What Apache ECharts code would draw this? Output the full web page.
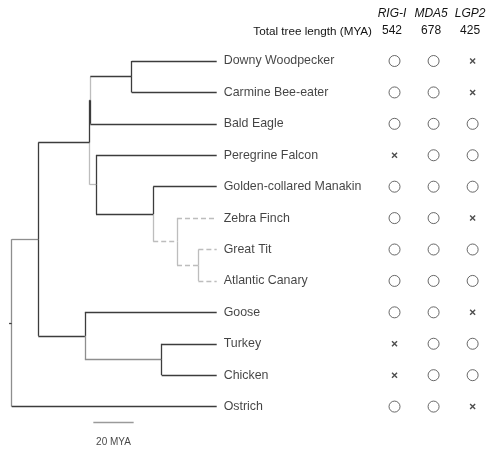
<!DOCTYPE html>
<html>
<head>
<meta charset="utf-8">
<script src="https://cdn.jsdelivr.net/npm/echarts@6/dist/echarts.min.js"></script>
<style>
  html, body { margin: 0; padding: 0; background: #fff; }
  #chart { width: 493px; height: 453px; }
</style>
</head>
<body>
<div id="chart"></div>
<script>
// ---- Data -------------------------------------------------------------
// Tip taxa, top to bottom
const tips = ['Downy Woodpecker', 'Carmine Bee-eater', 'Bald Eagle', 'Peregrine Falcon',
  'Golden-collared Manakin', 'Zebra Finch', 'Great Tit', 'Atlantic Canary',
  'Goose', 'Turkey', 'Chicken', 'Ostrich'];

// Internal clades: name, age (million years ago), children (top to bottom)
const cladeNames = ['Aves', 'Neognathae', 'Telluraves', 'Afroaves', 'Coraciimorphae',
  'Australaves', 'Passeriformes', 'Passerida', 'Paridae+Fringillidae', 'Galloanserae', 'Phasianidae'];
const cladeAges = [101.7, 88.5, 63.1, 62.7, 42.2, 59.9, 31.5, 19.7, 9.1, 65.4, 27.3];
const cladeChildren = [
  ['Neognathae', 'Ostrich'],
  ['Telluraves', 'Galloanserae'],
  ['Afroaves', 'Australaves'],
  ['Coraciimorphae', 'Bald Eagle'],
  ['Downy Woodpecker', 'Carmine Bee-eater'],
  ['Peregrine Falcon', 'Passeriformes'],
  ['Golden-collared Manakin', 'Passerida'],
  ['Zebra Finch', 'Paridae+Fringillidae'],
  ['Great Tit', 'Atlantic Canary'],
  ['Goose', 'Phasianidae'],
  ['Turkey', 'Chicken']
];
const rootStem = 1.3;          // MYA
const scaleBarLength = 20;     // MYA
const scaleBarLabel = '20 MYA';

// Genes and their presence (1) / absence (0) per taxon, same order as tips
const genes = ['RIG-I', 'MDA5', 'LGP2'];
const totalTreeLength = [542, 678, 425];
const rigI = [1, 1, 1, 0, 1, 1, 1, 1, 1, 0, 0, 1];
const mda5 = [1, 1, 1, 1, 1, 1, 1, 1, 1, 1, 1, 1];
const lgp2 = [0, 0, 1, 1, 1, 0, 1, 1, 0, 1, 1, 0];
const presence = [rigI, mda5, lgp2];

// ---- Tree layout in data units (x: MYA since root, y: row index) -------
const rootAge = cladeAges[0];
const ageOf = {}, kids = {};
tips.forEach(t => { ageOf[t] = 0; });
cladeNames.forEach((c, i) => { ageOf[c] = cladeAges[i]; kids[c] = cladeChildren[i]; });

const yOf = {};
function placeY(name) {
  if (!kids[name]) { yOf[name] = tips.indexOf(name); return yOf[name]; }
  const ys = kids[name].map(placeY);
  yOf[name] = (ys[0] + ys[ys.length - 1]) / 2;
  return yOf[name];
}
placeY(cladeNames[0]);
const xOf = name => rootAge - ageOf[name];

// Collect the members of the songbird clade (drawn dashed)
const dashedSet = new Set();
(function mark(n) { dashedSet.add(n); (kids[n] || []).forEach(mark); })('Passerida');

const COLORS = { dark: '#3c3c3c', mid: '#8e8e8e', light: '#bdbdbd' };
// [vertical tone, horizontal tone] of the elbow leading to a node
const edgeTone = {
  'Ostrich': ['mid', 'dark'],
  'Neognathae': ['mid', 'mid'],
  'Australaves': ['light', 'light'],
  'Coraciimorphae': ['light', 'dark'],
  'Phasianidae': ['mid', 'mid']
};
const toneRank = { light: 0, dashed: 0, mid: 1, dark: 2 };

const segments = [];
function seg(a, b, tone) {
  const dashed = tone === 'dashed';
  segments.push({
    rank: toneRank[tone],
    coords: [a, b],
    lineStyle: {
      color: dashed ? COLORS.light : COLORS[tone],
      width: 1.3,
      opacity: 1,
      type: dashed ? [5, 3] : 'solid'
    }
  });
}
cladeNames.forEach(p => {
  kids[p].forEach(c => {
    let tones = edgeTone[c] || ['dark', 'dark'];
    if (dashedSet.has(c)) tones = ['light', 'dashed'];
    seg([xOf(p), yOf[p]], [xOf(p), yOf[c]], tones[0]);
    seg([xOf(p), yOf[c]], [xOf(c), yOf[c]], tones[1]);
  });
});
seg([-rootStem, yOf[cladeNames[0]]], [0, yOf[cladeNames[0]]], 'dark');
segments.sort((a, b) => a.rank - b.rank);

// Scale bar placed under the tree
const scaleX0 = 40.5, scaleY = tips.length - 0.5;

// ---- Table of gene presence -------------------------------------------
const tableData = [];
presence.forEach((arr, g) => {
  arr.forEach((v, t) => {
    tableData.push({
      value: [g, t],
      symbol: v ? 'circle' : 'path://M0,0L10,10M10,0L0,10',
      symbolSize: v ? 11 : 5,
      itemStyle: v
        ? { color: '#fff', borderColor: '#444', borderWidth: 1 }
        : { color: 'none', borderColor: '#222', borderWidth: 1.4 }
    });
  });
});

const FONT = '"Liberation Sans", Arial, sans-serif';
const TEXT = '#141414';
const chart = echarts.init(document.getElementById('chart'), null, { renderer: 'canvas' });
chart.setOption({
  animation: false,
  backgroundColor: '#fff',
  textStyle: { fontFamily: FONT },
  grid: [
    { left: 11.7, width: 205, top: 61, height: 345.6 },
    { left: 375, width: 120, top: 45.3, height: 377 }
  ],
  xAxis: [
    { type: 'value', gridIndex: 0, min: 0, max: rootAge, show: false },
    {
      type: 'category', gridIndex: 1, data: genes, position: 'top',
      axisLine: { show: false }, axisTick: { show: false }, splitLine: { show: false },
      axisLabel: {
        margin: 6,
        interval: 0,
        formatter: (v, i) => '{g|' + v + '}\n{n|' + totalTreeLength[i] + '}',
        rich: {
          g: { fontFamily: FONT, fontSize: 12, fontStyle: 'italic', color: TEXT, lineHeight: 17, padding: [0, 5, 0, 0] },
          n: { fontFamily: FONT, fontSize: 12, color: TEXT, lineHeight: 17, padding: [0, 5, 0, 0] }
        }
      }
    }
  ],
  yAxis: [
    { type: 'value', gridIndex: 0, min: 0, max: tips.length - 1, inverse: true, show: false },
    { type: 'category', gridIndex: 1, data: tips, inverse: true, show: false }
  ],
  graphic: [{
    type: 'text', x: 372, y: 32,
    style: {
      text: 'Total tree length (MYA)', align: 'right', verticalAlign: 'middle',
      font: '11.7px ' + FONT, fill: TEXT
    }
  }],
  series: [
    {
      type: 'lines', coordinateSystem: 'cartesian2d', xAxisIndex: 0, yAxisIndex: 0,
      clip: false, silent: true, z: 2,
      data: segments.map(s => ({ coords: s.coords, lineStyle: s.lineStyle }))
    },
    {
      type: 'lines', coordinateSystem: 'cartesian2d', xAxisIndex: 0, yAxisIndex: 0,
      clip: false, silent: true,
      lineStyle: { color: '#9a9a9a', width: 1.3, opacity: 1 },
      data: [{ coords: [[scaleX0, scaleY], [scaleX0 + scaleBarLength, scaleY]] }]
    },
    {
      type: 'scatter', xAxisIndex: 0, yAxisIndex: 0, clip: false, silent: true,
      symbolSize: 0,
      label: {
        show: true, position: 'right', distance: 7,
        fontFamily: FONT, fontSize: 12.4, color: TEXT,
        formatter: p => p.data.name
      },
      data: tips.map(t => ({ name: t, value: [xOf(t), yOf[t]] }))
    },
    {
      type: 'scatter', xAxisIndex: 0, yAxisIndex: 0, clip: false, silent: true,
      symbolSize: 0,
      label: {
        show: true, position: 'bottom', distance: 15,
        fontFamily: FONT, fontSize: 10, color: TEXT,
        formatter: scaleBarLabel
      },
      data: [[scaleX0 + scaleBarLength / 2, scaleY]]
    },
    {
      type: 'scatter', xAxisIndex: 1, yAxisIndex: 1, silent: true,
      data: tableData
    }
  ]
});
</script>
</body>
</html>
